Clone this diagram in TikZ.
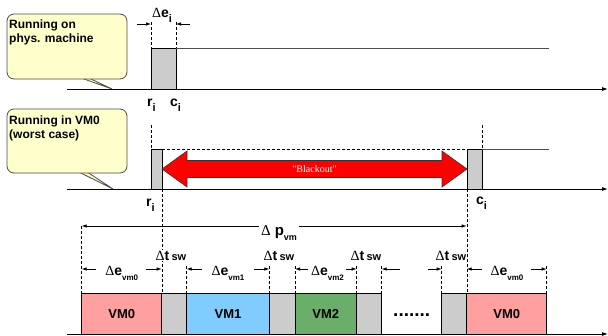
\documentclass[tikz,border=0pt]{standalone}
\usepackage{fontspec}
\setmainfont{Liberation Sans}
\newfontfamily\serifgrk{Liberation Serif}
\usetikzlibrary{arrows.meta}
\definecolor{calloutfill}{RGB}{255,255,204}
\definecolor{vmpink}{RGB}{255,160,160}
\definecolor{vmblue}{RGB}{128,204,255}
\definecolor{vmgreen}{RGB}{106,174,106}
\definecolor{swgray}{RGB}{204,204,204}
\newcommand{\dlt}{{\serifgrk\mdseries Δ}}
\newcommand{\sbx}[2]{\raisebox{-#1pt}{\fontsize{#2}{#2}\selectfont}}
\begin{document}
\begin{tikzpicture}[x=1pt,y=-1pt,
  timeline/.style={line width=0.9pt,-{Latex[length=6pt,width=4pt]}},
  level/.style={line width=0.9pt,draw=black!70},
  guide/.style={line width=0.7pt,dash pattern=on 3pt off 2pt},
  dim/.style={line width=0.7pt,-{Latex[length=5pt,width=3.5pt]}},
  dimboth/.style={line width=0.7pt,{Latex[length=5pt,width=3.5pt]}-{Latex[length=5pt,width=3.5pt]}},
  swbox/.style={fill=swgray,draw=black,line width=0.8pt},
  vmbox/.style={draw=black,line width=0.8pt},
  callout/.style={fill=calloutfill,draw=black!70,line width=0.8pt},
  calltext/.style={font=\bfseries\fontsize{12}{14}\selectfont,align=left,inner sep=0pt},
  lbl/.style={font=\bfseries\fontsize{14}{14}\selectfont,inner sep=0pt},
  vmlbl/.style={font=\bfseries\fontsize{13}{13}\selectfont,inner sep=0pt},
  swlbl/.style={font=\bfseries\fontsize{14}{14}\selectfont,inner sep=1pt,fill=white,anchor=base east},
  elbl/.style={font=\bfseries\fontsize{14}{14}\selectfont,inner sep=0pt,anchor=base}
]
\useasboundingbox (0,0) rectangle (608,335);

% ---------- callout 1
\filldraw[callout] (72.8,75) -- (112,89) -- (82.6,75) -- cycle;
\draw[callout,rounded corners=7pt] (7,14) rectangle (127,79);
\node[calltext,anchor=base west] (c1) at (9,42) {Running on\\phys. machine};

% ---------- top timeline
\draw[timeline] (67,89) -- (608,89);
\filldraw[swbox] (151,48) rectangle (176,89);
\draw[level] (176,48) -- (549,48);
\draw[guide] (151,22) -- (151,48);
\draw[guide] (176,22) -- (176,48);
\draw[dim] (137,24) -- (151,24);
\draw[dim] (190,24) -- (176,24);
\node[lbl,anchor=base] (dei) at (162,17) {\dlt e\raisebox{-5pt}{\fontsize{11}{11}\selectfont i}};
\node[lbl,anchor=base west] (r1) at (147,106) {r\raisebox{-5pt}{\fontsize{11}{11}\selectfont i}};
\node[lbl,anchor=base west] (ci1) at (170,106) {c\raisebox{-5pt}{\fontsize{11}{11}\selectfont i}};

% ---------- callout 2
\filldraw[callout] (72.8,169) -- (113,189) -- (82.6,169) -- cycle;
\draw[callout,rounded corners=7pt] (7,109) rectangle (127,173);
\node[calltext,anchor=base west] (c2) at (9,138) {Running in VM0\\(worst case)};

% ---------- middle timeline
\draw[timeline] (67,189) -- (608,189);
\draw[guide] (151,125) -- (151,149);
\draw[guide] (482,125) -- (482,149);
\draw[guide] (162,149) -- (467,149);
\draw[guide] (162,189) -- (162,293);
\draw[guide] (467,189) -- (467,293);
\filldraw[swbox] (151,149) rectangle (162,189);
\filldraw[swbox] (467,149) rectangle (482,189);
\draw[level] (482,149) -- (549,149);
\filldraw[fill=red,draw=black!80,line width=0.6pt]
  (162,169) -- (187,151) -- (187,160.5) -- (442,160.5) -- (442,151) -- (467,169)
  -- (442,187) -- (442,177.5) -- (187,177.5) -- (187,187) -- cycle;
\node[text=white,font=\serifgrk\fontsize{10}{10}\selectfont,inner sep=0pt] (bo) at (314.5,169) {"Blackout"};
\node[lbl,anchor=base west] (r2) at (146,206) {r\raisebox{-5pt}{\fontsize{11}{11}\selectfont i}};
\node[lbl,anchor=base west] (ci2) at (476,204) {c\raisebox{-5pt}{\fontsize{11}{11}\selectfont i}};

% ---------- bottom
\draw[guide] (81.7,226) -- (81.7,293);
\foreach \xx in {186.7,269.3,295,356.7,381.7,441.7,546.7}
  \draw[guide] (\xx,266) -- (\xx,293);
\draw[dimboth] (81.7,226) -- (466.7,226);
\node[font=\bfseries\fontsize{15}{15}\selectfont,fill=white,inner sep=2pt,anchor=base] (dp) at (279,235)
  {\dlt\ p\raisebox{-5pt}{\fontsize{9}{9}\selectfont vm}};

% blocks
\filldraw[vmbox,fill=vmpink] (81.7,293) rectangle (161.7,334);
\filldraw[swbox] (161.7,293) rectangle (186.7,334);
\filldraw[vmbox,fill=vmblue] (186.7,293) rectangle (269.3,334);
\filldraw[swbox] (269.3,293) rectangle (295,334);
\filldraw[vmbox,fill=vmgreen] (295,293) rectangle (356.7,334);
\filldraw[swbox] (356.7,293) rectangle (381.7,334);
\filldraw[swbox] (441.7,293) rectangle (466.7,334);
\filldraw[vmbox,fill=vmpink] (466.7,293) rectangle (546.7,334);
\node[vmlbl] (v0) at (121.7,314) {VM0};
\node[vmlbl] (v1) at (228,314) {VM1};
\node[vmlbl] (v2) at (325.8,314) {VM2};
\node[vmlbl] (v0b) at (506.7,314) {VM0};
\node[font=\bfseries\fontsize{19}{19}\selectfont,inner sep=0pt,anchor=base] (dots) at (411.7,316) {.......};
\draw[timeline] (67,334) -- (608,334);

% switch labels
\node[swlbl] (sw1) at (187.5,260) {\dlt t\,{\fontsize{11}{11}\selectfont sw}};
\node[swlbl] (sw2) at (295.5,260) {\dlt t\,{\fontsize{11}{11}\selectfont sw}};
\node[swlbl] (sw3) at (382.5,260) {\dlt t\,{\fontsize{11}{11}\selectfont sw}};
\node[swlbl] (sw4) at (467.5,260) {\dlt t\,{\fontsize{11}{11}\selectfont sw}};

% execution dims
\draw[dim] (96,269) -- (81.7,269);
\draw[dim] (146,269) -- (161.7,269);
\node[elbl] (e0) at (121.7,275) {\dlt e\raisebox{-5pt}{\fontsize{8}{8}\selectfont vm0}};
\draw[dim] (202,269) -- (186.7,269);
\draw[dim] (254,269) -- (269.3,269);
\node[elbl] (e1) at (228,275) {\dlt e\raisebox{-5pt}{\fontsize{8}{8}\selectfont vm1}};
\draw[dim] (308,269) -- (295,269);
\draw[dim] (346,269) -- (356.7,269);
\node[elbl] (e2) at (327.5,275) {\dlt e\raisebox{-5pt}{\fontsize{8}{8}\selectfont vm2}};
\draw[dim] (400,269) -- (381.7,269);
\draw[dim] (428,269) -- (441.7,269);
\draw[dim] (482,269) -- (466.7,269);
\draw[dim] (531,269) -- (546.7,269);
\node[elbl] (e0b) at (507,275) {\dlt e\raisebox{-5pt}{\fontsize{8}{8}\selectfont vm0}};
\end{tikzpicture}
\end{document}
